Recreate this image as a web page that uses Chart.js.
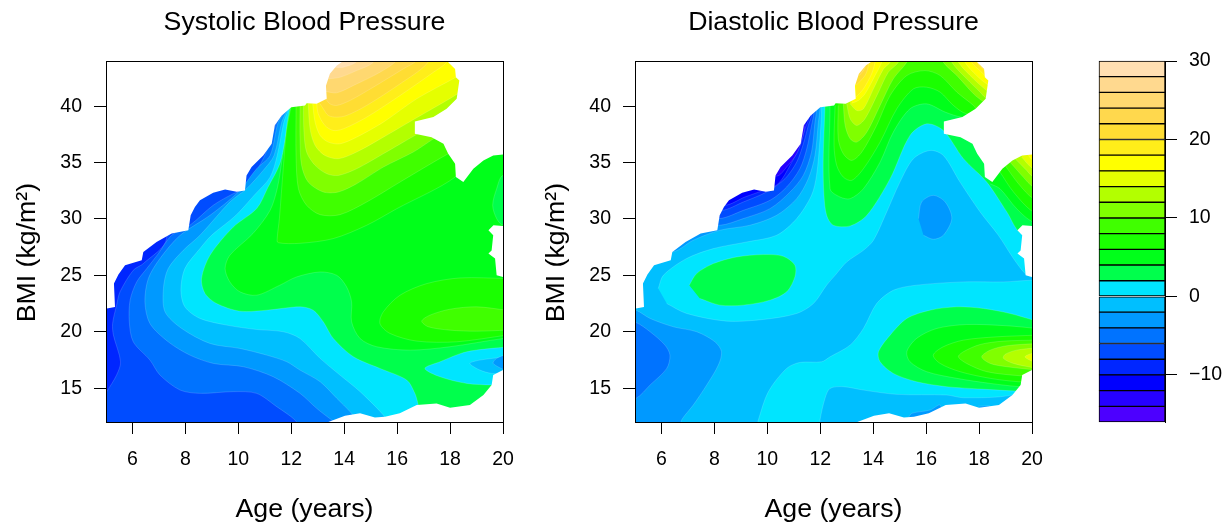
<!DOCTYPE html>
<html>
<head>
<meta charset="utf-8">
<title>Blood pressure contours</title>
<script src="https://cdn.jsdelivr.net/npm/chart.js@4/dist/chart.umd.min.js"></script>
<style>
  html, body { margin: 0; padding: 0; background: #fff; overflow: hidden; }
  canvas { position: absolute; top: 0; }
</style>
</head>
<body>
<canvas id="sbp" width="529" height="522" style="left:0"></canvas>
<canvas id="dbp" width="529" height="522" style="left:529px"></canvas>
<canvas id="key" width="167" height="522" style="left:1058px"></canvas>
<script>
// colour key
const levelLows = [-16, -14, -12, -10, -8, -6, -4, -2, 0, 2, 4, 6, 8, 10, 12, 14, 16, 18, 20, 22, 24, 26, 28];
const levelColors = ['#4c00ff', '#2600ff', '#0000ff', '#0026ff', '#004cff', '#0073ff', '#0099ff', '#00bfff', '#00e5ff',
  '#00ff4c', '#00ff1a', '#1aff00', '#40ff00', '#80ff00', '#b3ff00', '#e5ff00', '#ffff00', '#ffee1a', '#ffdd33',
  '#ffd84d', '#ffd870', '#ffd98f', '#ffdfb2'];
const keyTicks = [-10, 0, 10, 20, 30];
const ageTicks = [6, 8, 10, 12, 14, 16, 18, 20];
const bmiTicks = [15, 20, 25, 30, 35, 40];

// no data regions, same in both panels
const noDataTopLeft = [[4,22.06],[5.03,22.06],[5.34,22.2],[5.3,24.27],[5.47,25.07],[5.72,25.9],[6.35,26.34],[6.41,27.08],[6.91,27.96],[7.48,28.7],[8.11,29],[8.2,30.32],[8.36,31.06],[8.55,31.65],[9.05,32.33],[9.5,32.62],[9.94,32.4],[10.25,32.53],[10.31,33.86],[10.5,34.6],[10.94,35.63],[11.26,36.66],[11.38,38.3],[11.64,39.17],[12,39.9],[12.52,40.06],[12.58,40.26],[12.96,40.2],[13.34,40.65],[13.31,41.8],[13.46,42.86],[13.72,43.6],[13.9,43.9],[14,45],[4,45]];
const noDataTopRight = [[17.8,45],[17.93,43.9],[18.19,43.3],[18.22,42.56],[18.35,42.27],[18.25,40.65],[17.87,39.76],[17.37,39.03],[16.67,38.64],[16.67,37.55],[17.3,37.25],[17.75,36.66],[17.93,35.78],[18.19,34.9],[18.22,33.71],[18.5,33.27],[18.88,34.45],[19.26,35.19],[19.63,35.63],[20,35.72],[21,35.72],[21,45]];
const noDataNotch = [[21,29.38],[20,29.38],[19.64,29.44],[19.45,29],[19.63,28.55],[19.57,27.2],[19.45,26.93],[19.7,26.5],[19.76,25],[20,24.86],[21,24.86]];
const noDataBottom = [[21,16.6],[20,16.6],[19.63,16.16],[19.57,15.28],[19.26,14.39],[18.75,13.5],[18,13.27],[17.49,13.65],[16.74,13.5],[16.1,12.77],[15.54,12.47],[15.16,12.39],[14.6,12.77],[14.03,12.56],[13.6,12.18],[13.4,12],[13.3,11],[21,11]];
const wholePlot = [[4,11],[21,11],[21,45],[4,45]];

// systolic contours, [age, bmi]
const sysFrom8 = [[5.03,14.69],[5.4,16.16],[5.55,17.34],[5.28,19.7],[5.25,20.73],[5.4,22.36],[5.53,23.54],[6.03,25.45],[6.41,26.04],[7.29,28.26],[7.5,45],[21,45],[21,11],[4.5,11],[4.5,14.5]];
const sysFrom6 = [[12.3,11.5],[12.14,12.18],[11.45,13.36],[10.69,14.54],[9.81,14.69],[8.55,14.54],[7.8,14.83],[7.04,16.16],[6.66,17.49],[6.03,19.11],[5.88,20.88],[5.91,22.8],[6.16,24.42],[6.54,25.6],[6.98,26.93],[7.48,28.55],[8.17,29.44],[9.05,31.21],[9.81,32.24],[10.25,32.68],[11,35.63],[11.45,38.58],[11.83,40.06],[11.9,45],[21,45],[21,11.5]];
const sysFrom4 = [[14,11.5],[13.53,12.18],[12.96,13.21],[12.33,14.54],[11.32,16.01],[10.19,16.9],[9.06,17.19],[8.17,17.93],[7.35,19.11],[6.66,20.73],[6.47,22.65],[6.6,24.72],[7.04,26.49],[7.8,28.55],[8.93,30.32],[10,32.39],[10.69,34.45],[11.2,35.63],[11.51,38.58],[11.89,40.1],[11.95,45],[21,45],[21,11.5]];
const sysFrom2 = [[14.6,11.5],[14.47,12.18],[14.22,12.92],[13.72,14.1],[13.09,15.57],[12.33,16.6],[11.83,17.34],[11.07,17.93],[10.06,18.52],[8.93,18.96],[7.86,20.29],[7.23,21.77],[7.17,23.83],[7.35,25.6],[7.92,27.22],[8.55,28.55],[9.68,31.5],[10.31,32.68],[10.94,34.3],[11.35,35.63],[11.64,38.58],[11.89,40.06],[11.95,45],[21,45],[21,11.5]];
const sysFrom0 = [[15.7,11.5],[15.6,12],[15.48,12.62],[14.6,14.69],[13.84,16.16],[13.09,17.64],[12.33,19.4],[11.7,20],[10.69,20.2],[9.56,20.59],[8.55,21.18],[7.98,22.21],[7.83,23.68],[7.98,25.6],[8.55,27.37],[8.99,28.55],[9.9,30.3],[10.6,32.1],[11.2,33.7],[11.47,35.63],[11.72,38.58],[11.92,40.06],[12,45],[21,45],[21,11.5]];
const sysFromUp2 = [[17,11.5],[16.8,13.5],[16.67,14.54],[16.36,15.72],[15.35,16.75],[14.35,17.78],[13.59,19.4],[13.21,20.88],[12.83,21.91],[12.33,22.21],[11.07,21.91],[10.06,21.82],[9.18,22.5],[8.74,23.39],[8.61,24.72],[8.93,26.78],[9.8,29.26],[10.7,30.94],[11.12,32.8],[11.57,34.9],[11.76,36.95],[11.85,38.58],[11.95,40.06],[12,45],[21,45],[21,11.5]];
const sysFromUp4 = [[12,39.9],[11.89,38.58],[11.66,35.34],[11.48,32.8],[11.2,30.76],[10.55,28.7],[9.68,26.78],[9.5,25.6],[9.68,24.42],[10.06,23.54],[10.69,23.24],[11.57,24.13],[12.2,24.86],[13.09,25.3],[13.72,25],[14.09,23.98],[14.28,22.65],[14.28,20.88],[14.6,19.4],[15.23,18.67],[16.49,18.37],[17.99,18.67],[20,19.4],[21,19.6],[21,45],[12,45]];
const sysFromUp6 = [[12,40.06],[11.82,37.84],[11.7,34.57],[11.55,30],[11.47,28.3],[11.5,27.9],[12.33,27.84],[13.59,28.26],[14.85,29.44],[15.98,30.9],[18.19,33.71],[18.3,35],[18.5,36],[18.5,45],[12,45]];
const sysFromUp8 = [[12.18,40.06],[12.18,35.63],[12.27,32.68],[12.58,31.21],[13.09,30.38],[13.84,30.38],[14.85,31.5],[16.11,33.27],[17.93,35.78],[18.5,36.4],[18.5,45],[12.18,45]];
const sysFromUp10 = [[12.33,40.06],[12.33,37.1],[12.39,34.75],[12.64,33.27],[13.21,32.39],[13.78,32.39],[14.47,33.12],[15.48,34.6],[16.61,35.93],[17.37,37.1],[17.7,37.6],[18.5,38],[18.5,45],[12.33,45]];
const sysFromUp12 = [[12.46,40.2],[12.48,37.7],[12.58,35.93],[12.9,34.75],[13.34,34.01],[13.78,33.86],[14.47,34.45],[15.48,35.78],[16.67,37.4],[17.37,38.3],[18.5,39],[18.5,45],[12.46,45]];
const sysFromUp14 = [[12.64,40.2],[12.71,37.99],[12.9,36.52],[13.27,35.63],[13.78,35.34],[14.47,35.93],[15.48,37.25],[16.67,38.88],[17.87,40.5],[18.38,41.24],[18.5,41.5],[18.5,45],[12.64,45]];
const sysFromUp16 = [[12.81,40.2],[12.9,38.58],[13.09,37.4],[13.4,36.81],[13.84,36.66],[14.47,37.25],[15.48,38.58],[16.74,40.65],[18.22,42.56],[18.5,43],[18.5,45],[12.81,45]];
const sysFromUp18 = [[12.96,40.2],[13.02,39.32],[13.27,38.29],[13.59,37.84],[13.97,37.99],[14.85,39.02],[16.11,40.94],[17.37,43],[17.87,43.89],[18,45],[12.96,45]];
const sysFromUp20 = [[13.09,40.2],[13.21,39.76],[13.4,39.17],[13.72,39.02],[14.09,39.17],[14.85,40.06],[16.11,41.97],[17.12,43.74],[17.3,45],[13.09,45]];
const sysFromUp22 = [[13.3,40.65],[13.46,40.2],[13.72,40.06],[14.22,40.5],[15.1,41.68],[16.23,43.3],[16.74,44.04],[16.9,45],[13.3,45]];
const sysFromUp24 = [[13.3,41.3],[13.72,41.18],[14.35,41.83],[15.35,43],[15.98,44.04],[16.1,45],[13.3,45]];
const sysFromUp26 = [[13.4,42.42],[13.84,42.56],[14.47,43.15],[15.1,43.89],[15.2,45],[13.4,45]];
const sysFromUp28 = [[13.65,43.45],[13.97,43.45],[14.47,43.95],[14.55,45],[13.65,45]];
const sysEdgeDip = [[21,33.86],[20,33.86],[19.76,32.68],[19.61,31.21],[19.76,30.03],[20,29.44],[21,29.44]];
const sysPeak6 = [[20.14,24.72],[18.38,24.77],[17.12,24.27],[16.11,23.24],[15.48,21.77],[15.35,20.73],[15.73,19.85],[16.74,19.17],[18.25,19.11],[20.14,19.7]];
const sysPeak8 = [[20.14,21.91],[19,22.21],[18,22],[17.24,21.47],[16.93,20.94],[17.18,20.44],[18,20.14],[19,20.05],[20.14,20.14]];
const sysDip0 = [[20.2,18.67],[18.63,18.23],[17.62,17.34],[17.05,16.75],[17.62,16.01],[18.63,15.42],[19.57,15.28],[20.2,15.28]];
const sysDipM2 = [[20.14,17.78],[19.13,17.49],[18.75,17.19],[19.13,16.6],[19.57,16.31],[20.14,16.31]];
const sysDipM4 = [[20.14,18],[19.76,17.64],[19.63,17.19],[20.14,16.51]];

// diastolic contours, [age, bmi]
const diaUpper0 = [[5.88,23.83],[6.07,25],[6.95,26.49],[7.96,27.37],[9.22,27.96],[10.35,28.55],[11.11,30.03],[11.67,32.09],[11.86,33.86],[11.99,37.1],[12.05,39.76],[12.05,45],[21,45],[21,24.8],[20,24.86],[19.74,25.16],[19.3,26.49],[18.73,28.55],[18.04,30.62],[17.28,33.27],[16.65,35.63],[16.15,36.07],[15.52,35.34],[15.01,33.27],[14.51,30.62],[14.01,28.11],[13.63,27.22],[13,26.19],[12.56,25],[12.24,24.13],[11.74,22.5],[11.11,21.62],[9.85,21.09],[8.46,20.94],[6.95,21.62],[6.2,22.5]];
const diaLower0 = [[9.6,11.5],[9.66,12.18],[10.04,14.69],[10.73,16.75],[11.23,17.28],[12.05,17.34],[12.37,17.78],[13.13,18.82],[13.63,20.29],[14.13,22.5],[14.76,23.68],[15.64,24.13],[17.41,24.42],[18.92,24.42],[20,24.57],[21,24.57],[21,16],[19.23,14.39],[17.41,14.15],[16.78,14.39],[14.89,14.45],[13.63,14.83],[12.87,15.13],[12.37,14.98],[12.18,14.1],[11.99,12.18],[11.99,11.5]];
const diaEllipse2 = [[7.05,24.13],[7.33,25.16],[7.96,26.04],[8.84,26.63],[9.85,26.84],[10.6,26.69],[11.04,25.9],[11.04,24.86],[10.73,23.54],[10.1,22.8],[9.09,22.36],[8.21,22.36],[7.45,22.95]];
const diaUp2 = [[12.18,40.06],[12.11,35.04],[12.14,32.09],[12.24,30.32],[12.49,29.44],[13.13,29.38],[13.76,30.32],[14.64,33.57],[15.39,37.4],[16.02,38.43],[16.65,37.84],[17.41,35.34],[18.29,33.27],[19.05,30.62],[19.61,28.7],[21,28.7],[21,45],[12.18,45]];
const diaUp4 = [[12.37,40.11],[12.37,32.68],[12.75,31.94],[13.13,31.8],[13.63,32.68],[14.26,35.04],[14.76,37.7],[15.39,39.76],[16.02,40.2],[16.72,39.47],[17.34,39.02],[18.6,38.8],[18.6,45],[12.37,45]];
const diaUp6 = [[12.56,40.06],[12.52,36.52],[12.62,34.75],[12.87,33.71],[13.19,33.42],[13.63,34.45],[14.26,36.81],[14.89,39.76],[15.52,41.53],[16.02,41.68],[16.53,41.24],[17.03,40.06],[17.53,39.32],[18.6,39.3],[18.6,45],[12.56,45]];
const diaUp8 = [[12.68,40.06],[12.68,37.1],[12.87,35.78],[13.19,35.19],[13.57,35.93],[14.13,38.29],[14.64,40.94],[15.27,42.71],[15.96,43.15],[16.53,42.71],[17.16,41.24],[17.79,40.06],[17.97,39.61],[18.6,39.7],[18.6,45],[12.68,45]];
const diaLeft10 = [[12.87,40.2],[12.94,38.29],[13.13,37.1],[13.38,36.81],[13.76,37.7],[14.26,40.06],[14.76,42.42],[15.27,43.89],[15.46,45],[12.87,45]];
const diaRight10 = [[16.53,45],[16.65,43.89],[17.16,42.71],[17.79,41.09],[18.1,40.5],[18.42,40.06],[18.6,40],[18.6,45]];
const diaLeft12 = [[13,40.2],[13.13,38.88],[13.38,38.29],[13.69,38.88],[14.2,41.24],[14.57,43],[14.95,43.89],[15.08,45],[13,45]];
const diaRight12 = [[16.84,45],[16.97,43.89],[17.53,42.42],[18.04,41.24],[18.23,40.79],[18.6,40.5],[18.6,45]];
const diaLeft14 = [[13.13,40.2],[13.38,39.61],[13.63,39.76],[14.01,41.53],[14.39,43.3],[14.64,43.89],[14.74,45],[13.13,45]];
const diaRight14 = [[17.09,45],[17.22,43.89],[17.79,42.42],[18.29,41.38],[18.6,41],[18.6,45]];
const diaLeft16 = [[13.19,40.26],[13.44,40.5],[13.69,41.09],[14.07,42.71],[14.32,43.89],[14.41,45],[13.19,45]];
const diaRight16 = [[17.38,45],[17.47,43.89],[17.91,42.71],[18.29,41.97],[18.6,41.7],[18.6,45]];
const diaLeft18 = [[13.35,40.79],[13.63,41.53],[13.94,42.86],[14.07,43.89],[14.13,45],[13.35,45]];
const diaRight18 = [[17.63,45],[17.72,43.89],[18.1,43],[18.35,42.42],[18.6,42.2],[18.6,45]];
const diaLeft20 = [[13.35,41.83],[13.69,42.71],[13.82,43.6],[13.88,45],[13.35,45]];
const diaRight20 = [[17.91,45],[17.97,43.74],[18.23,43.15],[18.6,42.8],[18.6,45]];
const diaLeft22 = [[13.48,42.71],[13.63,43.15],[13.73,43.74],[13.78,45],[13.48,45]];
const diaFan4 = [[18.42,33.12],[18.79,32.68],[19.42,30.91],[20.05,29.73],[21,29.5],[21,36],[18.42,36]];
const diaFan6 = [[18.79,34.16],[19.3,32.39],[20.05,30.62],[21,30],[21,36],[18.79,36]];
const diaFan8 = [[18.98,34.75],[19.49,33.12],[20.05,31.8],[21,31],[21,36],[18.98,36]];
const diaFan10 = [[19.17,35.04],[19.67,33.71],[20.05,32.83],[21,32],[21,37],[19.17,37]];
const diaFan12 = [[19.36,35.34],[19.8,34.3],[20.05,33.71],[21,33],[21,37],[19.36,37]];
const diaFan14 = [[19.61,35.48],[20.05,34.45],[21,34],[21,37],[19.61,37]];
const diaFan16 = [[19.86,35.63],[20.05,35.19],[21,35],[21,37],[19.86,37]];
const diaPeak2 = [[20.18,20.94],[19.17,21.62],[18.16,22.06],[17.16,22.21],[16.15,21.91],[15.27,21.18],[14.64,19.7],[14.2,18.23],[14.26,17.34],[14.76,16.31],[15.64,15.57],[16.78,15.13],[18.1,14.92],[19.42,14.74],[20.18,14.7]];
const diaPeak4 = [[20.18,20.29],[19.05,20.53],[17.53,20.64],[16.4,20.29],[15.64,19.41],[15.27,18.23],[15.39,17.34],[16.02,16.46],[17.16,15.87],[18.42,15.42],[19.55,15.13],[20.18,15.13]];
const diaPeak6 = [[20.18,19.7],[18.67,19.55],[17.41,19.26],[16.65,18.67],[16.27,17.93],[16.53,17.19],[17.28,16.46],[18.42,15.87],[19.49,15.57],[20.18,15.57]];
const diaPeak8 = [[20.18,19.26],[18.92,19.17],[18.04,18.87],[17.41,18.23],[17.22,17.78],[17.53,17.19],[18.29,16.46],[19.55,16.1],[20.18,16.1]];
const diaPeak10 = [[20.18,18.96],[19.05,18.76],[18.42,18.37],[18.1,17.78],[18.42,17.19],[19.05,16.9],[20.18,16.6]];
const diaPeak12 = [[20.18,18.58],[19.42,18.37],[18.98,17.99],[18.92,17.64],[19.3,17.19],[20.18,16.75]];
const diaPeak14 = [[20.18,18.23],[19.74,17.78],[20.18,17.19]];
const diaMountainDip = [[15.71,30.03],[15.83,31.5],[16.27,32.09],[16.72,31.5],[16.97,30.03],[16.65,28.55],[16.27,28.2],[15.9,28.55]];
const diaLeftDip4 = [[4.5,22.1],[5.04,21.91],[5.57,21.18],[6.45,20.44],[7.33,20],[8.02,19.11],[8.27,18.23],[8.15,17.05],[7.71,15.28],[7.2,13.5],[6.76,12.18],[6.7,11.5],[4.5,11.5]];
const diaLeftDip6 = [[4.5,21],[5.04,20.82],[5.57,20],[6.13,18.82],[6.32,17.93],[6.2,16.75],[5.57,15.28],[5.04,14.1],[4.5,14]];
const diaSliverA = [[15.33,12.38],[15.46,12.77],[16.15,13.06],[16.53,13.5],[16.6,12],[15.33,12]];
const diaSliverB = [[17.97,13.4],[18.42,13.4],[18.2,13.1]];
const diaFanM4 = [[4.5,27.1],[6.45,27.1],[7.2,28.11],[8.21,29],[9.34,29.44],[10.35,30.32],[11.11,31.8],[11.55,33.57],[11.8,35.63],[11.93,38.58],[11.99,39.76],[12,45],[4.5,45]];
const diaFanM6 = [[4.5,29.44],[8.21,29.44],[9.09,30.03],[10.1,30.91],[10.86,32.39],[11.36,33.86],[11.67,35.93],[11.8,38.58],[11.86,39.61],[11.9,45],[4.5,45]];
const diaFanM8 = [[4.5,30.03],[8.19,30.03],[9.09,30.76],[10.1,31.65],[10.73,32.83],[11.23,34.45],[11.49,36.22],[11.67,38.29],[11.76,39.47],[11.8,45],[4.5,45]];
const diaFanM10 = [[4.5,30.76],[8.27,30.76],[9.09,31.5],[9.97,32.39],[10.67,33.57],[11.11,35.04],[11.36,36.66],[11.55,38.29],[11.67,39.23],[11.7,45],[4.5,45]];
const diaFanM12 = [[4.5,31.21],[8.4,31.21],[9.15,31.94],[9.85,32.53],[10.41,33.12],[10.86,34.75],[11.23,36.52],[11.42,37.99],[11.55,38.88],[11.6,45],[4.5,45]];
const diaFanM14 = [[4.5,33.8],[10.35,33.8],[10.73,34.6],[11.11,35.78],[11.3,36.96],[11.42,38.29],[11.45,45],[4.5,45]];

function colorOf(low) {
  return levelColors[levelLows.indexOf(low)];
}

function band(low, pts) {
  return {
    data: pts.map(p => ({ x: p[0], y: p[1] })),
    showLine: true, fill: 'shape', tension: 0.3,
    backgroundColor: colorOf(low),
    borderColor: 'rgba(255,255,255,0.25)', borderWidth: 0.6,
    pointRadius: 0
  };
}

function blank(pts) {
  return {
    data: pts.map(p => ({ x: p[0], y: p[1] })),
    showLine: true, fill: 'shape', tension: 0,
    backgroundColor: '#fff', borderWidth: 0, pointRadius: 0
  };
}

const noData = [noDataTopLeft, noDataTopRight, noDataNotch, noDataBottom].map(blank);

// painted back to front
const sysLayers = [
  band(-10, wholePlot), band(-8, sysFrom8), band(-6, sysFrom6), band(-4, sysFrom4), band(-2, sysFrom2),
  band(0, sysFrom0), band(2, sysFromUp2), band(4, sysFromUp4), band(6, sysFromUp6), band(8, sysFromUp8),
  band(10, sysFromUp10), band(12, sysFromUp12), band(14, sysFromUp14), band(16, sysFromUp16),
  band(18, sysFromUp18), band(20, sysFromUp20), band(22, sysFromUp22), band(24, sysFromUp24),
  band(26, sysFromUp26), band(28, sysFromUp28),
  band(2, sysEdgeDip), band(6, sysPeak6), band(8, sysPeak8),
  band(0, sysDip0), band(-2, sysDipM2), band(-4, sysDipM4)
].concat(noData);

const diaLayers = [
  band(-2, wholePlot), band(0, diaUpper0), band(0, diaLower0), band(2, diaEllipse2),
  band(2, diaUp2), band(4, diaUp4), band(6, diaUp6), band(8, diaUp8),
  band(10, diaLeft10), band(10, diaRight10), band(12, diaLeft12), band(12, diaRight12),
  band(14, diaLeft14), band(14, diaRight14), band(16, diaLeft16), band(16, diaRight16),
  band(18, diaLeft18), band(18, diaRight18), band(20, diaLeft20), band(20, diaRight20), band(22, diaLeft22),
  band(4, diaFan4), band(6, diaFan6), band(8, diaFan8), band(10, diaFan10), band(12, diaFan12),
  band(14, diaFan14), band(16, diaFan16),
  band(2, diaPeak2), band(4, diaPeak4), band(6, diaPeak6), band(8, diaPeak8), band(10, diaPeak10),
  band(12, diaPeak12), band(14, diaPeak14),
  band(-4, diaMountainDip), band(-4, diaLeftDip4), band(-6, diaLeftDip6), band(-4, diaSliverA), band(-4, diaSliverB),
  band(-4, diaFanM4), band(-6, diaFanM6), band(-8, diaFanM8), band(-10, diaFanM10), band(-12, diaFanM12), band(-14, diaFanM14)
].concat(noData);

const tickFont = { family: 'Liberation Sans', size: 19.5 };
const titleFont = { family: 'Liberation Sans', size: 26.7, lineHeight: 1 };
const edgeOnly = { display: false, drawTicks: false, drawOnChartArea: false };

function setTicks(values) {
  return scale => { scale.ticks = values.map(v => ({ value: v })); };
}

function contourPanel(id, title, layers) {
  new Chart(document.getElementById(id), {
    type: 'scatter',
    data: { datasets: layers.slice().reverse() },
    options: {
      responsive: false,
      animation: false,
      events: [],
      layout: { padding: { right: 26 } },
      plugins: { legend: { display: false }, tooltip: { enabled: false } },
      scales: {
        x: {
          type: 'linear', min: 5, max: 20,
          afterBuildTicks: setTicks(ageTicks),
          afterFit: s => { s.height = 100; },
          border: { color: '#000', z: 1 },
          grid: { drawOnChartArea: false, color: '#000', tickLength: 12, z: 1 },
          ticks: { color: '#000', font: tickFont, padding: 14, maxRotation: 0, autoSkip: false, z: 1 },
          title: { display: true, text: 'Age (years)', color: '#000', font: titleFont, padding: { top: 0, bottom: -1 } }
        },
        y: {
          type: 'linear', min: 12, max: 44,
          afterBuildTicks: setTicks(bmiTicks),
          afterFit: s => { s.width = 106; },
          border: { color: '#000', z: 1 },
          grid: { drawOnChartArea: false, color: '#000', tickLength: 12, z: 1 },
          ticks: { color: '#000', font: tickFont, padding: 12, autoSkip: false, z: 1 },
          title: { display: true, text: 'BMI (kg/m²)   ', color: '#000', font: titleFont, padding: { top: 14, bottom: 0 } }
        },
        top: {
          type: 'linear', position: 'top', min: 5, max: 20,
          afterFit: s => { s.height = 61; },
          border: { display: true, color: '#000', z: 1 }, grid: edgeOnly, ticks: { display: false },
          title: { display: true, text: title, color: '#000', font: titleFont, padding: { top: 9, bottom: 0 } }
        },
        right: {
          type: 'linear', position: 'right', min: 12, max: 44,
          afterFit: s => { s.width = 0; },
          border: { display: true, color: '#000', z: 1 }, grid: edgeOnly, ticks: { display: false }
        }
      }
    }
  });
}

contourPanel('sbp', 'Systolic Blood Pressure', sysLayers);
contourPanel('dbp', 'Diastolic Blood Pressure', diaLayers);

new Chart(document.getElementById('key'), {
  type: 'bar',
  data: {
    labels: [''],
    datasets: levelLows.map((low, i) => ({
      data: [[low, low + 2]],
      backgroundColor: levelColors[i],
      borderColor: '#000', borderWidth: 1, borderSkipped: false,
      grouped: false, barPercentage: 1, categoryPercentage: 1, clip: false
    }))
  },
  options: {
    responsive: false,
    animation: false,
    events: [],
    layout: { padding: { top: 61, bottom: 100, left: 41 } },
    plugins: { legend: { display: false }, tooltip: { enabled: false } },
    scales: {
      x: { display: false },
      y: {
        type: 'linear', position: 'right', min: -16, max: 30,
        afterBuildTicks: setTicks(keyTicks),
        afterFit: s => { s.width = 60; },
        border: { color: '#000' },
        grid: { drawOnChartArea: false, color: '#000', tickLength: 12 },
        ticks: {
          color: '#000', font: tickFont, padding: 12, autoSkip: false,
          callback: v => String(v).replace('-', '\u2212')
        }
      }
    }
  }
});
</script>
</body>
</html>
